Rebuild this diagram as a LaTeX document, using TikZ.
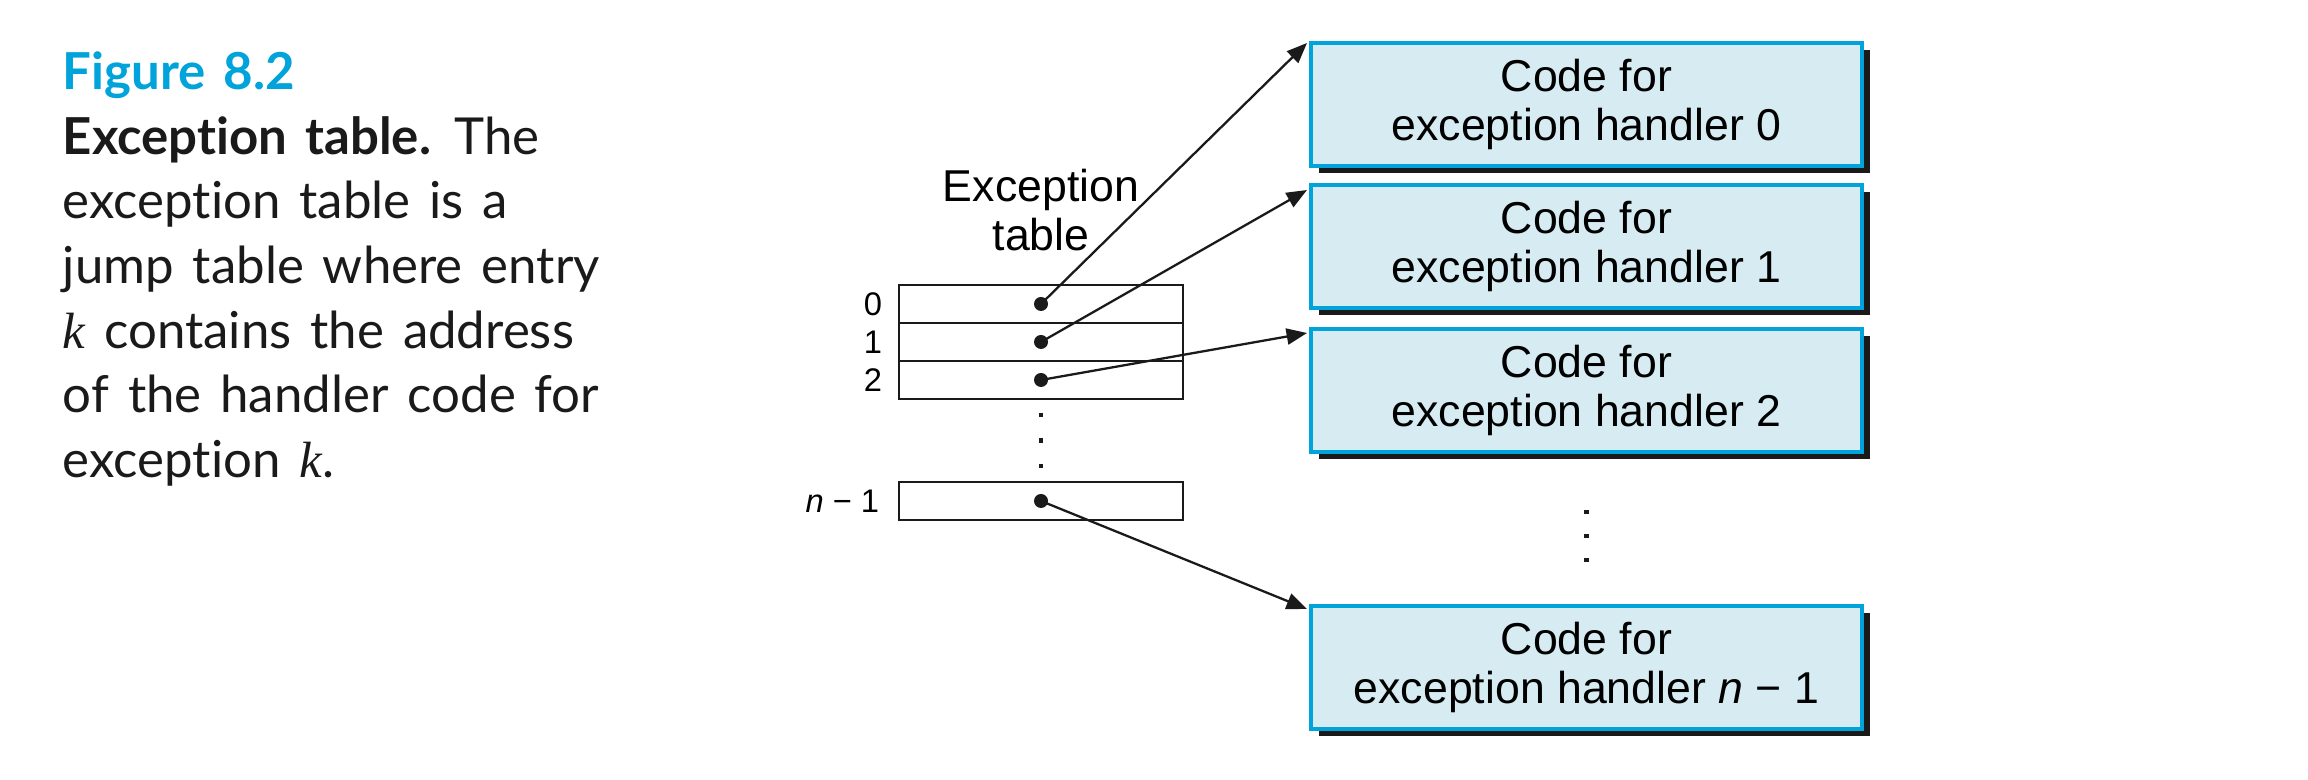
\documentclass[tikz,border=0pt]{standalone}
\usepackage{fontspec}
\setmainfont{Lato}[WordSpace=1.45, Ligatures=NoCommon]
\newfontfamily\helv{Liberation Sans}
\newfontfamily\kfont{Liberation Serif}
\usetikzlibrary{arrows.meta, positioning, calc, shadows}
\definecolor{ccyan}{HTML}{00A3DA}
\definecolor{cpale}{HTML}{D6ECF2}
\definecolor{cink}{HTML}{1A1A1A}
\newcommand{\kvar}{{\kfont\itshape k}}
\tikzset{
  every picture/.style={line width=0.5pt},
  handler/.style={draw=ccyan, fill=cpale, line width=0.9pt, outer sep=0pt, inner sep=0pt,
    minimum width=5.51cm, minimum height=1.23cm, align=center,
    font=\helv\fontsize{12.7}{14}\selectfont,
    drop shadow={shadow xshift=0.075cm, shadow yshift=-0.07cm, fill=cink, opacity=1}},
  slot/.style={draw=cink, line width=0.5pt, outer sep=0pt, inner sep=0pt, minimum width=2.84cm, minimum height=0.38cm},
  idx/.style={font=\helv\fontsize{9.3}{11}\selectfont, inner sep=0pt},
  ptr/.style={-{Triangle[length=5.8pt, width=4.6pt]}, line width=0.65pt, draw=cink},
  dot/.style={circle, fill=cink, inner sep=0pt, minimum size=0.14cm},
  caption/.style={font=\fontsize{14.5}{18.4}\selectfont, align=left, inner sep=0pt, text=cink},
}

\begin{document}
\begin{tikzpicture}
  \useasboundingbox (0,0) rectangle (23.08,7.80);
  % caption
  \node[caption, anchor=north west] (cap) at (0.62,7.29)
    {{\bfseries\color{ccyan}Figure 8.2}\\
     {\bfseries Exception table.} The\\
     exception table is a\\
     jump table where entry\\
     \kvar{} contains the address\\
     of the handler code for\\
     exception \kvar.};
  % exception table
  \node[slot] (r0) at (10.41,4.76) {};
  \node[slot, below=0pt of r0] (r1) {};
  \node[slot, below=0pt of r1] (r2) {};
  \node[slot, below=0.83cm of r2] (rn) {};
  \node[font=\helv\fontsize{12.7}{14}\selectfont, align=center, inner sep=0pt, above=0.33cm of r0] (ttl) {Exception\\table};
  \node[idx, left=0.16cm of r0] (l0) {0};
  \node[idx, left=0.16cm of r1] (l1) {1};
  \node[idx, left=0.16cm of r2] (l2) {2};
  \node[idx, left=0.19cm of rn] (ln) {\textit{n} − 1};
  \foreach \k in {0.19,0.5,0.81}
    \fill[cink] ($(r2.south)!\k!(rn.north)$) ++(-0.022,-0.022) rectangle ++(0.044,0.044);
  % handler code blocks
  \node[handler] (h0) at (15.865,6.755) {Code for\\exception handler 0};
  \node[handler, below=0.19cm of h0] (h1) {Code for\\exception handler 1};
  \node[handler, below=0.21cm of h1] (h2) {Code for\\exception handler 2};
  \node[handler, below=1.54cm of h2] (hn) {Code for\\exception handler \textit{n} − 1};
  \foreach \k in {0.39,0.545,0.7}
    \fill[cink] ($(h2.south)!\k!(hn.north)$) ++(-0.022,-0.022) rectangle ++(0.044,0.044);
  % pointers
  \foreach \r in {r0,r1,r2,rn} \node[dot] (d\r) at (\r) {};
  \draw[ptr] (dr0.center) -- ([xshift=-0.04cm]h0.north west);
  \draw[ptr] (dr1.center) -- ([xshift=-0.04cm, yshift=-0.05cm]h1.north west);
  \draw[ptr] (dr2.center) -- ([xshift=-0.04cm, yshift=-0.04cm]h2.north west);
  \draw[ptr] (drn.center) -- ([xshift=-0.04cm, yshift=-0.03cm]hn.north west);
\end{tikzpicture}
\end{document}
